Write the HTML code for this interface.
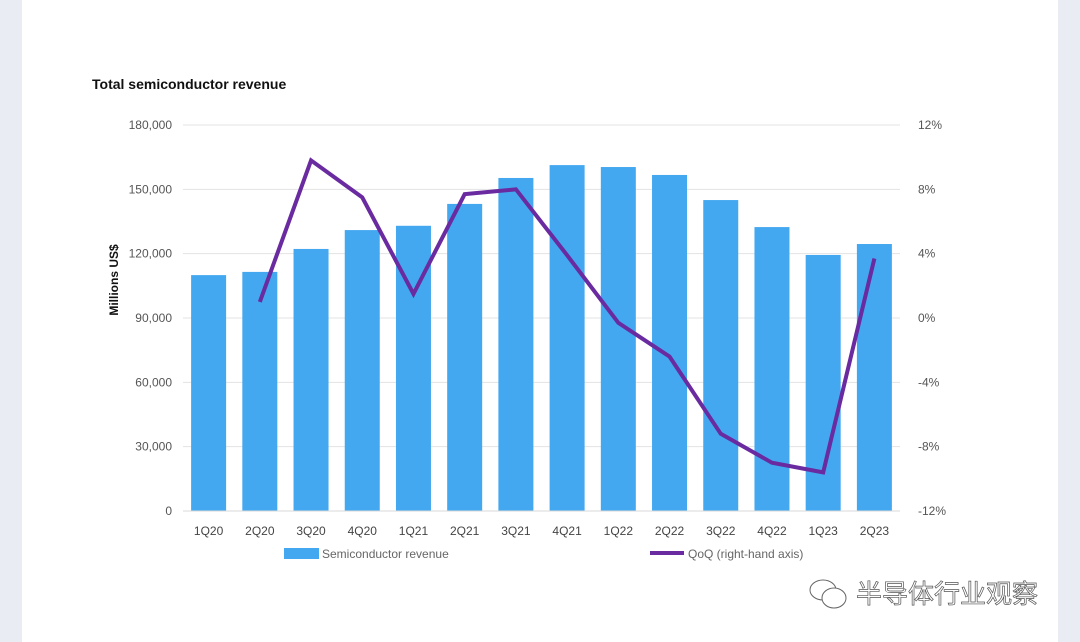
<!DOCTYPE html>
<html><head><meta charset="utf-8"><style>
html,body{margin:0;padding:0;width:1080px;height:642px;overflow:hidden;background:#e9ecf2;font-family:"Liberation Sans","Noto Sans CJK SC",sans-serif}
#card{position:absolute;left:22px;top:0;width:1036px;height:642px;background:#fff}
svg{position:absolute;left:0;top:0}
</style></head><body>
<div id="card"></div>
<svg id="chart" width="1080" height="642"></svg>
<script>
const categories=["1Q20","2Q20","3Q20","4Q20","1Q21","2Q21","3Q21","4Q21","1Q22","2Q22","3Q22","4Q22","1Q23","2Q23"];
const revenue=[110000,111500,122200,131000,133000,143200,155300,161300,160400,156700,145000,132400,119400,124500];
const qoq=[null,1.0,9.8,7.5,1.5,7.7,8.0,3.9,-0.3,-2.4,-7.2,-9.0,-9.6,3.7];
const leftTicks=[0,30000,60000,90000,120000,150000,180000];
const rightTicks=[-12,-8,-4,0,4,8,12];
const NS="http://www.w3.org/2000/svg";
const svg=document.getElementById('chart');
const x0=183,x1=900,yTop=125,yBot=511;
const band=(x1-x0)/categories.length;
const xc=i=>x0+band*(i+0.5);
const yL=v=>yBot-(v/180000)*(yBot-yTop);
const yR=v=>yBot-((v+12)/24)*(yBot-yTop);
function mk(t,a,txt){const e=document.createElementNS(NS,t);for(const k in a)e.setAttribute(k,a[k]);if(txt!==undefined)e.textContent=txt;svg.appendChild(e);return e;}
let t=mk('text',{x:92,y:89,'font-size':14,'font-weight':'bold',fill:'#111'},'Total semiconductor revenue');


leftTicks.forEach(v=>{
  if(v>0){const g=mk('line',{x1:x0,x2:x1,y1:yL(v),y2:yL(v),stroke:'#e3e3e3','stroke-width':1});
  
  }
  const l=mk('text',{x:172,y:yL(v)+4,'font-size':12,fill:'#555','text-anchor':'end'},v.toLocaleString('en-US'));
  
  
});
rightTicks.forEach(v=>{
  const l=mk('text',{x:918,y:yR(v)+4,'font-size':12,fill:'#555'},v+'%');
  
  
});
const yt=mk('text',{x:0,y:0,'font-size':12,'font-weight':'bold',fill:'#111','text-anchor':'middle',transform:'translate(118,280) rotate(-90)'},'Millions US$');


revenue.forEach((v,i)=>{
  const b=mk('rect',{x:xc(i)-17.5,y:yL(v),width:35,height:yBot-yL(v),fill:'#44a8f0'});
  
  
  const l=mk('text',{x:xc(i),y:535,'font-size':12,fill:'#444','text-anchor':'middle'},categories[i]);
  
  
});
const ax=mk('line',{x1:x0,x2:x1,y1:yBot,y2:yBot,stroke:'#d9d9d9','stroke-width':1});


const pts=[];qoq.forEach((v,i)=>{if(v!==null)pts.push(xc(i)+','+yR(v));});
const pl=mk('polyline',{points:pts.join(' '),fill:'none',stroke:'#6a2aa0','stroke-width':4,'stroke-linejoin':'miter'});


const lb=mk('rect',{x:284,y:548,width:35,height:11,fill:'#44a8f0'});


const lt=mk('text',{x:322,y:558,'font-size':12,fill:'#666'},'Semiconductor revenue');


const ll=mk('line',{x1:650,x2:684,y1:553,y2:553,stroke:'#6a2aa0','stroke-width':4});


const lt2=mk('text',{x:688,y:558,'font-size':12,fill:'#666'},'QoQ (right-hand axis)');


const b1=mk('ellipse',{cx:823,cy:590,rx:13,ry:10,fill:'#fff',stroke:'#666','stroke-width':1});


const b2=mk('ellipse',{cx:834,cy:598,rx:12,ry:10,fill:'#fff',stroke:'#666','stroke-width':1});


const wm=mk('text',{x:856,y:603,'font-size':26,fill:'#fff',stroke:'#555','stroke-width':0.7},'半导体行业观察');


</script>
</body></html>
